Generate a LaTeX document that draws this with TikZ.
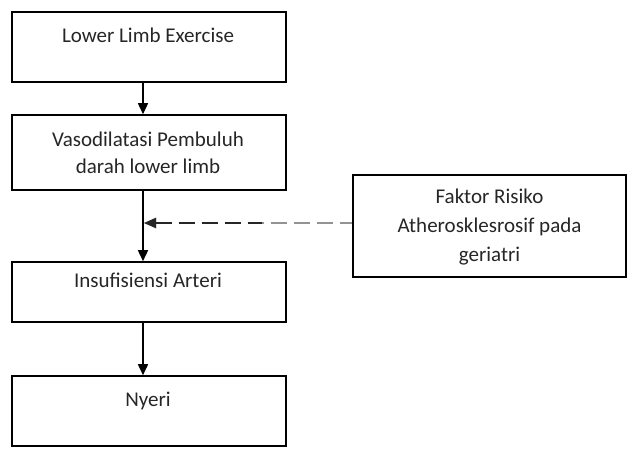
\documentclass[tikz,border=0pt]{standalone}
\usepackage{fontspec}
\setmainfont{Carlito}
\usetikzlibrary{arrows.meta}
\begin{document}
\begin{tikzpicture}[x=1pt,y=1pt,
  box/.style={draw=black, line width=1.6pt, rectangle, inner sep=0pt},
  boxtext/.style={font=\fontsize{21}{27}\selectfont, align=center, anchor=base, inner sep=0pt, text=black!85},
  flow/.style={line width=1.6pt, -{Triangle[width=10pt,length=11pt]}},
  riskline/.style={line width=1.8pt, dash pattern=on 16pt off 7pt, {Triangle[width=10pt,length=12pt]}-}]
\useasboundingbox (0,0) rectangle (629,-448);

% main chain of boxes
\node[box, minimum width=274pt, minimum height=70pt] (b1) at (149,-47) {};
\node[box, minimum width=274pt, minimum height=75pt] (b2) at (149,-152.5) {};
\node[box, minimum width=274pt, minimum height=60pt] (b3) at (149,-292) {};
\node[box, minimum width=274pt, minimum height=70pt] (b4) at (149,-411) {};
% risk factor box
\node[box, minimum width=273pt, minimum height=102pt] (risk) at (489.5,-226) {};

% box texts (base anchor = baseline of the last line)
\node[boxtext] (t1) at (148,-42) {Lower Limb Exercise};
\node[boxtext] (t2) at (148,-173) {Vasodilatasi Pembuluh\\darah lower limb};
\node[boxtext] (t3) at (148,-287) {Insufisiensi Arteri};
\node[boxtext] (t4) at (148,-406) {Nyeri};
\node[boxtext, font=\fontsize{21}{29}\selectfont] (rt) at (489.5,-261) {Faktor Risiko\\Atherosklesrosif pada\\geriatri};

% arrows down the chain
\draw[flow] ([xshift=-6pt]b1.south) -- ([xshift=-6pt]b2.north);
\draw[flow] ([xshift=-6pt]b2.south) -- ([xshift=-6pt]b3.north);
\draw[flow] ([xshift=-6pt]b3.south) -- ([xshift=-6pt]b4.north);

% dashed influence arrow, fading from black to grey
\coordinate (join) at (144,-223);
\coordinate (fade) at (262,-223);
\draw[riskline, gray!85] (join) -- (risk.west |- join);
\draw[riskline, black!85] (join) -- (fade);
\end{tikzpicture}
\end{document}
